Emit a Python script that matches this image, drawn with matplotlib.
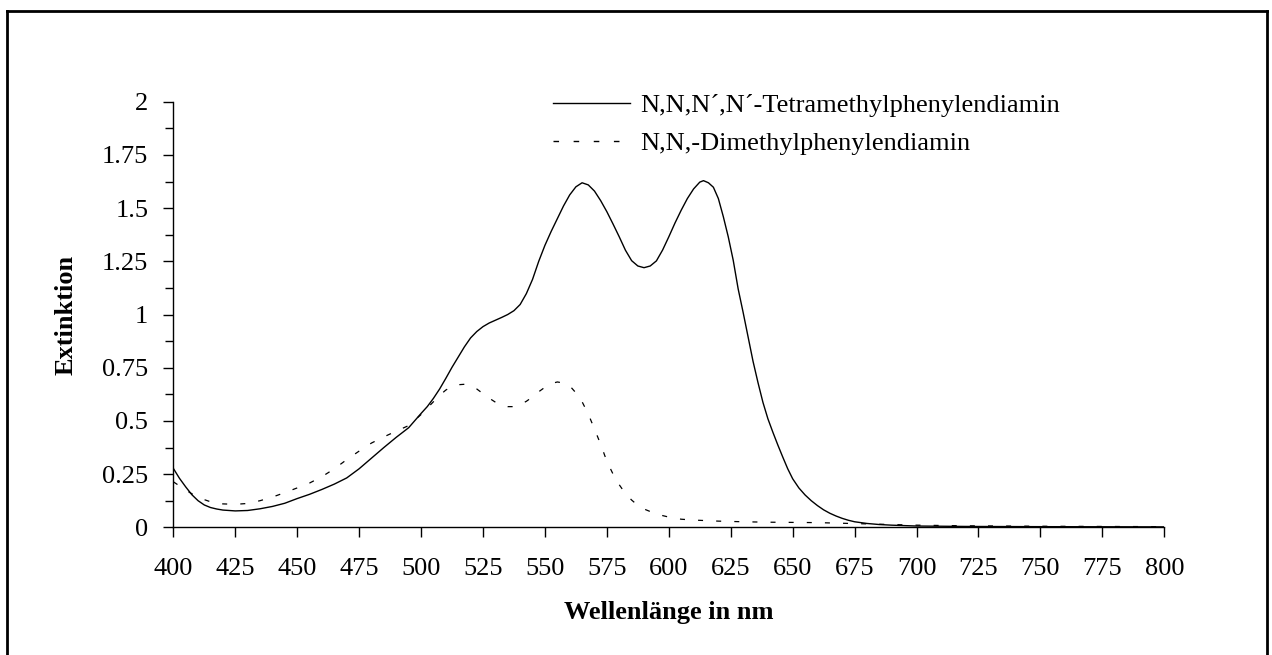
import matplotlib
matplotlib.use("Agg")
import matplotlib.pyplot as plt
from matplotlib.lines import Line2D
from matplotlib.ticker import MultipleLocator, FuncFormatter

plt.rcParams['font.family'] = ['Liberation Serif', 'DejaVu Serif']

# Wavelength (nm) and absorbance values
nm_tmpd = [400, 402.5, 405, 407.5, 410, 412.5, 415, 417.5, 420, 425, 430, 435, 440, 445,
           450, 455, 460, 465, 470, 475, 480, 485, 490, 495, 500, 502.5, 505, 507.5, 510,
           512.5, 515, 517.5, 520, 522.5, 525, 527.5, 530, 532.5, 535, 537.5, 540, 542.5,
           545, 547.5, 550, 552.5, 555, 557.5, 560, 562.5, 565, 567.5, 570, 572.5, 575,
           577.5, 580, 582.5, 585, 587.5, 590, 592.5, 595, 597.5, 600, 602.5, 605, 607.5,
           610, 612.5, 614, 616, 618, 620, 622, 624, 626, 628, 630, 632, 634, 636, 638,
           640, 642, 644, 646, 648, 650, 652.5, 655, 657.5, 660, 662.5, 665, 667.5, 670,
           672.5, 675, 680, 685, 690, 700, 720, 750, 800]
ext_tmpd = [0.277, 0.23, 0.19, 0.153, 0.125, 0.105, 0.093, 0.086, 0.081, 0.077, 0.079,
            0.087, 0.098, 0.113, 0.135, 0.155, 0.178, 0.203, 0.232, 0.275, 0.325, 0.375,
            0.423, 0.468, 0.535, 0.567, 0.606, 0.65, 0.7, 0.752, 0.8, 0.848, 0.89, 0.92,
            0.943, 0.96, 0.973, 0.986, 1.0, 1.018, 1.047, 1.098, 1.165, 1.25, 1.325, 1.39,
            1.45, 1.51, 1.562, 1.6, 1.619, 1.609, 1.58, 1.535, 1.483, 1.425, 1.365,
            1.302, 1.253, 1.228, 1.22, 1.228, 1.252, 1.303, 1.365, 1.43, 1.49, 1.545, 1.59,
            1.622, 1.629, 1.619, 1.598, 1.545, 1.46, 1.365, 1.255, 1.12, 1.01, 0.895, 0.78,
            0.68, 0.587, 0.51, 0.447, 0.387, 0.33, 0.275, 0.228, 0.185, 0.152, 0.125, 0.102,
            0.082, 0.066, 0.053, 0.042, 0.033, 0.026, 0.018, 0.013, 0.01, 0.006, 0.004,
            0.003, 0.002]

nm_dmpd = [400, 405, 410, 415, 420, 425, 430, 435, 440, 445, 450, 455, 460, 465, 470,
           475, 480, 485, 490, 495, 500, 505, 507.5, 510, 512.5, 515, 517.5, 520, 522.5,
           525, 527.5, 530, 532.5, 535, 537.5, 540, 542.5, 545, 547.5, 550, 552.5, 555,
           557.5, 560, 562.5, 565, 567.5, 570, 572.5, 575, 577.5, 580, 582.5, 585, 587.5,
           590, 595, 600, 605, 610, 620, 630, 640, 650, 660, 670, 680, 690, 700, 720, 750,
           800]
ext_dmpd = [0.214, 0.175, 0.14, 0.12, 0.11, 0.108, 0.112, 0.125, 0.142, 0.163, 0.185,
            0.208, 0.238, 0.275, 0.318, 0.358, 0.396, 0.425, 0.452, 0.478, 0.53, 0.59,
            0.62, 0.645, 0.662, 0.67, 0.672, 0.666, 0.65, 0.628, 0.607, 0.588, 0.574,
            0.567, 0.567, 0.577, 0.592, 0.613, 0.637, 0.658, 0.675, 0.683, 0.678, 0.665,
            0.632, 0.59, 0.532, 0.462, 0.39, 0.31, 0.25, 0.2, 0.158, 0.128, 0.103, 0.086,
            0.062, 0.048, 0.038, 0.034, 0.029, 0.026, 0.024, 0.023, 0.022, 0.019, 0.016,
            0.013, 0.01, 0.007, 0.005, 0.003]

label_tmpd = "N,N,N\u00b4,N\u00b4-Tetramethylphenylendiamin"
label_dmpd = "N,N,-Dimethylphenylendiamin"
xlabel = "Wellenlänge in nm"
ylabel = "Extinktion"

W, H = 1272, 655
fig = plt.figure(figsize=(W / 100, H / 100), dpi=100)
ax = fig.add_axes([173.3 / W, 1 - 527.3 / H, (1164.3 - 173.3) / W, (527.3 - 101.7) / H])

ax.plot(nm_tmpd, ext_tmpd, color='black', lw=1.0, label=label_tmpd)
ax.plot(nm_dmpd, ext_dmpd, color='black', lw=0.9, linestyle=(0, (4, 10.5)), label=label_dmpd)

ax.set_xlim(400, 800)
ax.set_ylim(0, 2)
ax.xaxis.set_major_locator(MultipleLocator(25))
ax.yaxis.set_major_locator(MultipleLocator(0.25))
ax.yaxis.set_minor_locator(MultipleLocator(0.125))
ax.yaxis.set_major_formatter(FuncFormatter(lambda v, p: ('%g' % v)))

for s in ['top', 'right']:
    ax.spines[s].set_visible(False)
for s in ['left', 'bottom']:
    ax.spines[s].set_linewidth(1.0)

ax.tick_params(axis='x', which='major', direction='out', length=7, width=1.0,
               labelsize=19, pad=15)
ax.tick_params(axis='y', which='major', direction='out', length=7, width=1.0,
               labelsize=19, pad=11)
ax.tick_params(axis='y', which='minor', direction='out', length=6, width=1.0)

ax.set_xlabel(xlabel, fontsize=19, fontweight='bold')
ax.set_ylabel(ylabel, fontsize=19, fontweight='bold')
ax.xaxis.set_label_coords(0.5, (527.3 - 612) / (527.3 - 101.7))
ax.xaxis.label.set_va('center')
ax.yaxis.set_label_coords((66 - 173.3) / (1164.3 - 173.3), 0.5)
ax.yaxis.label.set_va('center')

leg = ax.legend(loc='upper left', bbox_to_anchor=(553 / W, 1 - 94 / H),
                bbox_transform=fig.transFigure, frameon=False, fontsize=19,
                handlelength=2.9, handletextpad=0.4, borderpad=0, labelspacing=0.53,
                borderaxespad=0)
for h in leg.get_lines():
    h.set_linewidth(1.0)

# figure border (bottom edge lies outside the image)
kw = dict(transform=fig.transFigure, color='black', lw=2.0)
fig.add_artist(Line2D([7 / W, 7 / W], [-0.01, 1 - 11 / H], **kw))
fig.add_artist(Line2D([7 / W, 1266.7 / W], [1 - 11 / H, 1 - 11 / H], **kw))
fig.add_artist(Line2D([1266.7 / W, 1266.7 / W], [-0.01, 1 - 11 / H], **kw))

fig.savefig('out.png', dpi=100)
